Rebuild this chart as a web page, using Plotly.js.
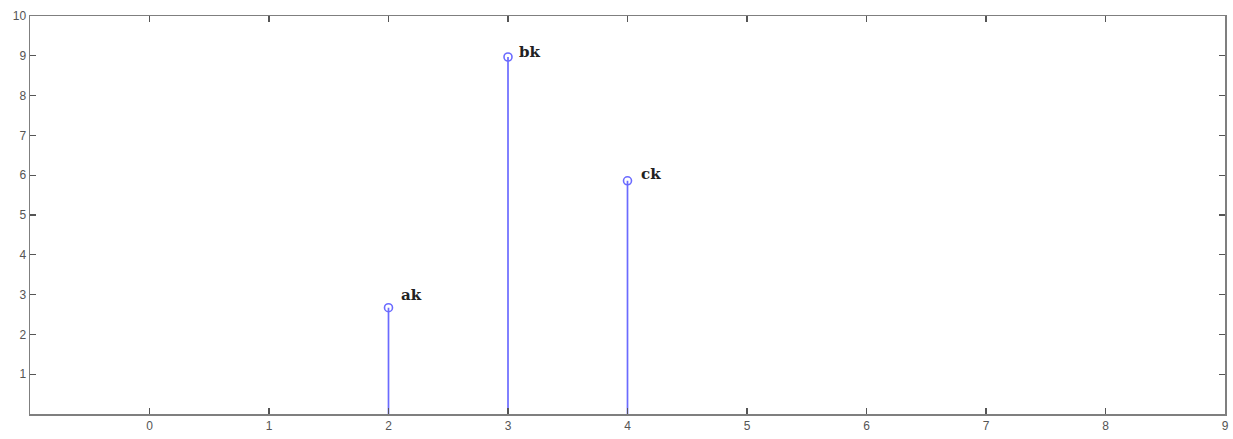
<!DOCTYPE html>
<html>
<head>
<meta charset="utf-8">
<script src="https://cdn.plot.ly/plotly-3.0.1.min.js"></script>
<style>html,body{margin:0;padding:0;background:#fff;}#chart{width:1233px;height:439px;}</style>
</head>
<body>
<div id="chart"></div>
<script>
const xValues = [2, 3, 4];
const yValues = [2.67, 8.97, 5.86];
const pointLabels = ["ak", "bk", "ck"];
const xTicks = [0, 1, 2, 3, 4, 5, 6, 7, 8, 9];
const yTicks = [1, 2, 3, 4, 5, 6, 7, 8, 9, 10];

const stemColor = "#6b6bff";
const labelShiftX = [10, 9, 11];
const labelShiftY = [13, 5, 7];

const stemX = [], stemY = [];
xValues.forEach((x, i) => { stemX.push(x, x, null); stemY.push(0, yValues[i], null); });

const traces = [
  {x: stemX, y: stemY, mode: "lines", line: {color: stemColor, width: 1.7}, hoverinfo: "skip", showlegend: false},
  {x: xValues, y: yValues, mode: "markers", marker: {symbol: "circle-open", size: 8, color: stemColor, line: {width: 1.6, color: stemColor}}, showlegend: false}
];

const annotations = xValues.map((x, i) => ({
  x: x, y: yValues[i], xref: "x", yref: "y", text: "<b>" + pointLabels[i] + "</b>",
  showarrow: false, xanchor: "left", yanchor: "middle", xshift: labelShiftX[i], yshift: labelShiftY[i],
  font: {family: "DejaVu Serif, Liberation Serif, serif", size: 15, color: "#222"}
}));

const axisCommon = {
  showline: true, mirror: "ticks", linecolor: "#7f7f7f", linewidth: 1.5,
  ticks: "inside", ticklen: 6, tickcolor: "#555", tickwidth: 1.2,
  showgrid: false, zeroline: false,
  tickfont: {family: "Liberation Sans, Arial, sans-serif", size: 12, color: "#555"}
};

const layout = {
  width: 1233, height: 439,
  margin: {l: 30, r: 8, t: 16, b: 25},
  paper_bgcolor: "#fff", plot_bgcolor: "#fff",
  xaxis: Object.assign({}, axisCommon, {range: [-1, 9], tickmode: "array", tickvals: xTicks, ticktext: xTicks.map(String)}),
  yaxis: Object.assign({}, axisCommon, {range: [0, 10], tickmode: "array", tickvals: yTicks, ticktext: yTicks.map(String)}),
  annotations: annotations,
  showlegend: false
};

Plotly.newPlot("chart", traces, layout, {staticPlot: true, displayModeBar: false});
</script>
</body>
</html>
